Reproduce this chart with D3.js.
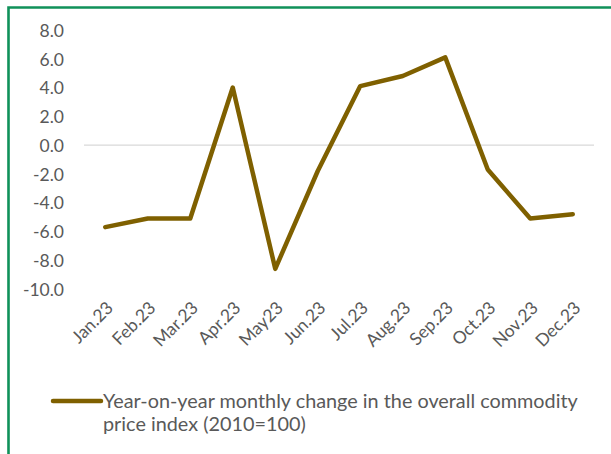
<!DOCTYPE html>
<html>
<head>
<meta charset="utf-8">
<script src="https://cdn.jsdelivr.net/npm/d3@7/dist/d3.min.js"></script>
<style>
  html, body { margin: 0; padding: 0; background: #fff; }
  svg { display: block; }
  text { font-family: Lato, "Noto Sans", sans-serif; fill: #595959; }
</style>
</head>
<body>
<svg id="chart" width="611" height="454"></svg>
<script>
// Monthly year-on-year change of the overall commodity price index, 2023
const months = ["Jan.23", "Feb.23", "Mar.23", "Apr.23", "May23", "Jun.23",
                "Jul.23", "Aug.23", "Sep.23", "Oct.23", "Nov.23", "Dec.23"];
const yoyChange = [-5.7, -5.1, -5.1, 4.0, -8.6, -1.8, 4.1, 4.8, 6.1, -1.7, -5.1, -4.8];
const yTicks = [8, 6, 4, 2, 0, -2, -4, -6, -8, -10];
const seriesName = ["Year-on-year monthly change in the overall commodity",
                    "price index (2010=100)"];

const W = 611, H = 454;
const plot = { left: 84, right: 594, top: 30, bottom: 289 };
const lineColor = "#7F6000";

const svg = d3.select("#chart");

// frame of the chart area
svg.append("path")
  .attr("d", `M8.5,${H} V7.5 H${W}`)
  .attr("fill", "none")
  .attr("stroke", "#10915A")
  .attr("stroke-width", 2.6);

const x = d3.scaleBand().domain(months).range([plot.left, plot.right]);
const y = d3.scaleLinear().domain([-10, 8]).range([plot.bottom, plot.top]);

// zero line
svg.append("line")
  .attr("x1", plot.left).attr("x2", plot.right)
  .attr("y1", y(0)).attr("y2", y(0))
  .attr("stroke", "#D9D9D9").attr("stroke-width", 1.3);

// y axis labels (plain hyphen for negatives)
const yAxis = d3.axisLeft(y).tickValues(yTicks).tickFormat(d => d.toFixed(1)).tickSize(0).tickPadding(0);
const gy = svg.append("g").attr("transform", "translate(64,0)").call(yAxis);
gy.select(".domain").remove();
gy.selectAll("text")
  .style("font-family", "Lato, 'Noto Sans', sans-serif")
  .style("font-size", "17.5px")
  .attr("fill", "#595959")
  .attr("dy", "0.36em");

// x axis labels, rotated
const xAxis = d3.axisBottom(x).tickSize(0).tickPadding(0);
const gx = svg.append("g").attr("transform", `translate(0,${plot.bottom})`).call(xAxis);
gx.select(".domain").remove();
gx.selectAll(".tick text")
  .style("font-family", "Lato, 'Noto Sans', sans-serif")
  .style("font-size", "17.5px")
  .attr("fill", "#595959")
  .attr("text-anchor", "end")
  .attr("dy", null)
  .attr("y", 0)
  .attr("transform", "translate(9,20) rotate(-45)");

// series line
const line = d3.line()
  .x((d, i) => x(months[i]) + x.bandwidth() / 2)
  .y(d => y(d));

svg.append("path")
  .datum(yoyChange)
  .attr("d", line)
  .attr("fill", "none")
  .attr("stroke", lineColor)
  .attr("stroke-width", 4.5)
  .attr("stroke-linejoin", "round")
  .attr("stroke-linecap", "round");

// legend
const lg = svg.append("g");
lg.append("line")
  .attr("x1", 53).attr("x2", 101)
  .attr("y1", 401).attr("y2", 401)
  .attr("stroke", lineColor).attr("stroke-width", 4.5)
  .attr("stroke-linecap", "round");

const lt = lg.append("text")
  .attr("x", 103).attr("y", 408)
  .style("font-size", "18px");
lt.selectAll("tspan").data(seriesName).join("tspan")
  .attr("x", 103)
  .attr("dy", (d, i) => i === 0 ? 0 : 23)
  .text(d => d);

// fit first legend line to its target width
const first = lt.select("tspan").node();
const w = first.getComputedTextLength();
lt.style("font-size", (18 * 475 / w).toFixed(2) + "px");
</script>
</body>
</html>
